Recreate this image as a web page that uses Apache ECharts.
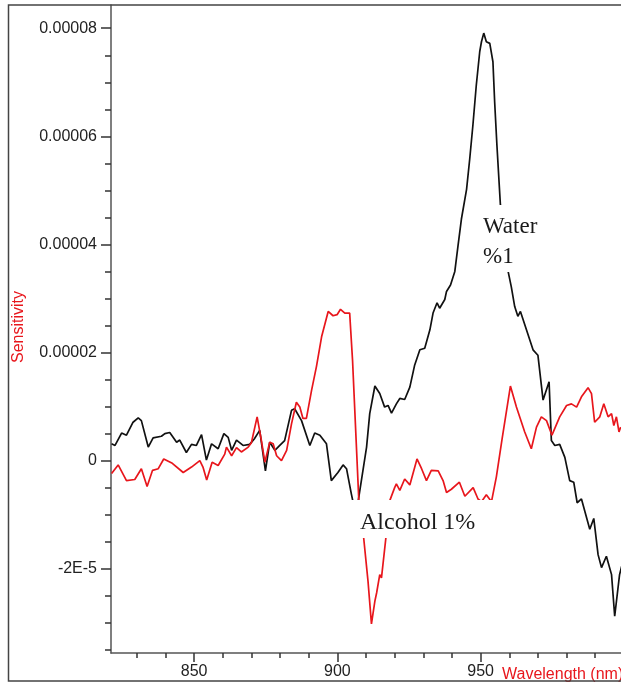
<!DOCTYPE html>
<html>
<head>
<meta charset="utf-8">
<script src="https://cdn.jsdelivr.net/npm/echarts@6/dist/echarts.min.js"></script>
<style>
html,body{margin:0;padding:0;background:#fff;}
#chart{width:621px;height:683px;}
</style>
</head>
<body>
<div id="chart"></div>
<script>
// Sensitivity values are in units of 1e-5
const waterWavelength = [821.2,822.4,824.7,826.4,828.7,830.5,831.6,834.0,835.7,838.6,839.8,841.5,843.9,845.0,847.3,849.1,850.8,852.6,854.3,856.1,858.4,860.4,861.9,863.1,864.8,867.1,869.4,871.0,872.9,874.9,876.4,878.2,879.9,881.6,884.0,885.1,887.5,890.4,892.1,893.9,896.2,897.9,900.2,902.0,903.2,904.9,906.2,907.3,910.2,911.3,913.1,914.8,916.5,917.7,918.9,920.6,921.8,923.5,925.3,927.0,928.8,930.5,932.3,933.4,934.8,935.7,937.5,938.1,939.5,941.0,942.1,943.3,945.1,946.2,947.3,948.5,949.7,950.3,951.1,952.0,953.2,954.3,954.9,955.7,956.9,958.3,959.6,960.7,961.9,963.0,963.9,966.0,968.3,970.0,971.8,973.9,974.7,975.9,977.6,979.4,981.1,982.5,983.7,985.2,988.1,989.5,991.0,992.2,993.9,995.7,996.8,998.5,999.5];
const waterSensitivity = [0.31,0.28,0.51,0.47,0.71,0.79,0.74,0.25,0.42,0.45,0.50,0.52,0.34,0.38,0.15,0.30,0.28,0.48,0.01,0.31,0.22,0.50,0.43,0.19,0.38,0.28,0.30,0.40,0.56,-0.19,0.34,0.19,0.28,0.37,0.93,0.96,0.74,0.28,0.51,0.47,0.31,-0.37,-0.22,-0.08,-0.15,-0.62,-0.95,-0.74,0.25,0.87,1.38,1.24,0.99,1.02,0.88,1.05,1.15,1.13,1.36,1.77,2.05,2.08,2.42,2.73,2.92,2.82,2.98,3.13,3.25,3.50,3.97,4.47,5.02,5.58,6.20,6.95,7.57,7.75,7.91,7.75,7.72,7.38,6.64,5.83,4.74,4.10,3.50,3.22,2.85,2.67,2.76,2.42,2.05,1.95,1.12,1.46,0.37,0.28,0.30,0.06,-0.37,-0.40,-0.78,-0.71,-1.27,-1.07,-1.74,-1.98,-1.77,-2.11,-2.88,-2.11,-1.90];

const alcoholWavelength = [821.2,823.5,826.4,829.3,831.6,833.6,835.5,837.5,839.4,842.4,846.2,849.1,852.0,853.1,854.4,856.3,858.4,860.7,861.3,863.1,864.8,866.5,868.9,870.0,872.0,873.5,874.7,876.4,877.6,878.8,880.5,882.3,884.0,885.7,886.9,888.0,889.2,891.0,892.7,894.5,896.8,898.5,899.9,901.1,902.6,904.3,905.3,907.5,909.0,910.7,911.9,913.1,913.7,914.8,915.4,916.9,918.3,920.0,920.6,921.8,923.5,924.1,925.3,925.9,927.8,929.4,931.1,932.8,935.2,936.9,938.1,939.8,942.6,944.5,945.1,947.4,949.1,950.3,952.0,953.8,955.5,957.5,960.4,962.5,965.4,967.7,969.5,971.2,973.0,974.9,977.6,980.0,981.7,983.5,985.2,987.5,988.7,989.8,991.6,993.0,994.5,995.7,996.5,997.4,998.3,998.9];
const alcoholSensitivity = [-0.24,-0.08,-0.37,-0.35,-0.15,-0.48,-0.18,-0.15,0.03,-0.05,-0.22,-0.12,0.0,-0.12,-0.36,-0.03,-0.09,0.12,0.25,0.09,0.24,0.16,0.25,0.33,0.81,0.37,-0.03,0.34,0.31,0.09,0.0,0.19,0.68,1.08,0.99,0.78,0.78,1.30,1.74,2.29,2.76,2.68,2.70,2.80,2.73,2.73,1.86,-0.74,-1.33,-2.23,-3.02,-2.60,-2.45,-2.11,-2.17,-1.45,-0.74,-0.50,-0.43,-0.55,-0.34,-0.36,-0.45,-0.43,0.03,-0.15,-0.37,-0.18,-0.19,-0.37,-0.59,-0.53,-0.40,-0.66,-0.68,-0.50,-0.71,-0.76,-0.63,-0.76,-0.30,0.40,1.38,0.99,0.53,0.22,0.62,0.81,0.74,0.47,0.81,1.02,1.05,0.99,1.18,1.35,1.24,0.71,0.81,1.05,0.81,0.87,0.65,0.81,0.53,0.62];

const xMajorTicks = [850, 900, 950];
const xMinorTicks = [830,840,860,870,880,890,910,920,930,940,960,970,980,990];
const yMajorTicks = [-2, 0, 2, 4, 6, 8];
const yTickLabels = ['-2E-5', '0', '0.00002', '0.00004', '0.00006', '0.00008'];
const yMinorTicks = [-3.5,-3,-2.5,-1.5,-1,-0.5,0.5,1,1.5,2.5,3,3.5,4.5,5,5.5,6.5,7,7.5];

const zip = (xs, ys) => xs.map((x, i) => [x, ys[i]]);

const X_MIN = 821, X_MAX = 999, Y_MIN = -3.56, Y_MAX = 8.43;
const axisCol = '#555';
const labelFont = { fontFamily: '"Liberation Sans", Arial, sans-serif', fontSize: 16, color: '#222' };

const chart = echarts.init(document.getElementById('chart'), null, { renderer: 'canvas' });
chart.setOption({
  animation: false,
  backgroundColor: '#fff',
  grid: { left: 111, right: 0, top: 5, bottom: 30, containLabel: false },
  xAxis: [
    {
      type: 'value', min: X_MIN, max: X_MAX, position: 'bottom',
      axisLine: { show: true, onZero: false, lineStyle: { color: axisCol, width: 1.5 } },
      axisTick: { show: true, customValues: xMajorTicks, length: 9, lineStyle: { color: '#333', width: 1.5 } },
      axisLabel: Object.assign({ customValues: xMajorTicks, margin: 11 }, labelFont),
      splitLine: { show: false }
    },
    {
      type: 'value', min: X_MIN, max: X_MAX, position: 'bottom',
      axisLine: { show: false, onZero: false },
      axisTick: { show: true, customValues: xMinorTicks, length: 5, lineStyle: { color: '#333', width: 1.5 } },
      axisLabel: { show: false },
      splitLine: { show: false }
    }
  ],
  yAxis: [
    {
      type: 'value', min: Y_MIN, max: Y_MAX, position: 'left',
      axisLine: { show: true, onZero: false, lineStyle: { color: axisCol, width: 1.5 } },
      axisTick: { show: true, customValues: yMajorTicks, length: 10, lineStyle: { color: '#333', width: 1.5 } },
      axisLabel: Object.assign({
        customValues: yMajorTicks, margin: 14,
        formatter: v => { const i = yMajorTicks.indexOf(Math.round(v)); return i >= 0 ? yTickLabels[i] : ''; }
      }, labelFont),
      splitLine: { show: false }
    },
    {
      type: 'value', min: Y_MIN, max: Y_MAX, position: 'left',
      axisLine: { show: false, onZero: false },
      axisTick: { show: true, customValues: yMinorTicks, length: 6, lineStyle: { color: '#333', width: 1.5 } },
      axisLabel: { show: false },
      splitLine: { show: false }
    }
  ],
  series: [
    {
      name: 'Water %1', type: 'line', xAxisIndex: 0, yAxisIndex: 0,
      data: zip(waterWavelength, waterSensitivity),
      showSymbol: false, symbol: 'none',
      lineStyle: { color: '#111', width: 1.7 }, z: 2
    },
    {
      name: 'Alcohol 1%', type: 'line', xAxisIndex: 0, yAxisIndex: 0,
      data: zip(alcoholWavelength, alcoholSensitivity),
      showSymbol: false, symbol: 'none',
      lineStyle: { color: '#e8161c', width: 1.7 }, z: 3
    }
  ],
  graphic: [
    { type: 'rect', z: 200, silent: true, shape: { x: 8.5, y: 5, width: 700, height: 676 },
      style: { fill: 'none', stroke: '#444', lineWidth: 1.5 } },
    { type: 'rect', z: 100, silent: true, shape: { x: 345, y: 500, width: 149, height: 38 },
      style: { fill: '#fff' } },
    { type: 'text', z: 101, silent: true, x: 360, y: 523,
      style: { text: 'Alcohol 1%', font: '24px "Liberation Serif", "Times New Roman", serif', fill: '#1a1a1a', verticalAlign: 'middle' } },
    { type: 'rect', z: 100, silent: true, shape: { x: 478, y: 205, width: 68, height: 67 },
      style: { fill: '#fff' } },
    { type: 'text', z: 101, silent: true, x: 483, y: 227,
      style: { text: 'Water', font: '23px "Liberation Serif", "Times New Roman", serif', fill: '#1a1a1a', verticalAlign: 'middle' } },
    { type: 'text', z: 101, silent: true, x: 483, y: 257,
      style: { text: '%1', font: '23px "Liberation Serif", "Times New Roman", serif', fill: '#1a1a1a', verticalAlign: 'middle' } },
    { type: 'text', z: 101, silent: true, x: 19, y: 327, rotation: Math.PI / 2,
      style: { text: 'Sensitivity', font: '16px "Liberation Sans", Arial, sans-serif', fill: '#e8161c', align: 'center', verticalAlign: 'middle' } },
    { type: 'text', z: 101, silent: true, x: 502, y: 675,
      style: { text: 'Wavelength (nm)', font: '16px "Liberation Sans", Arial, sans-serif', fill: '#e8161c', verticalAlign: 'middle' } }
  ]
});
</script>
</body>
</html>
